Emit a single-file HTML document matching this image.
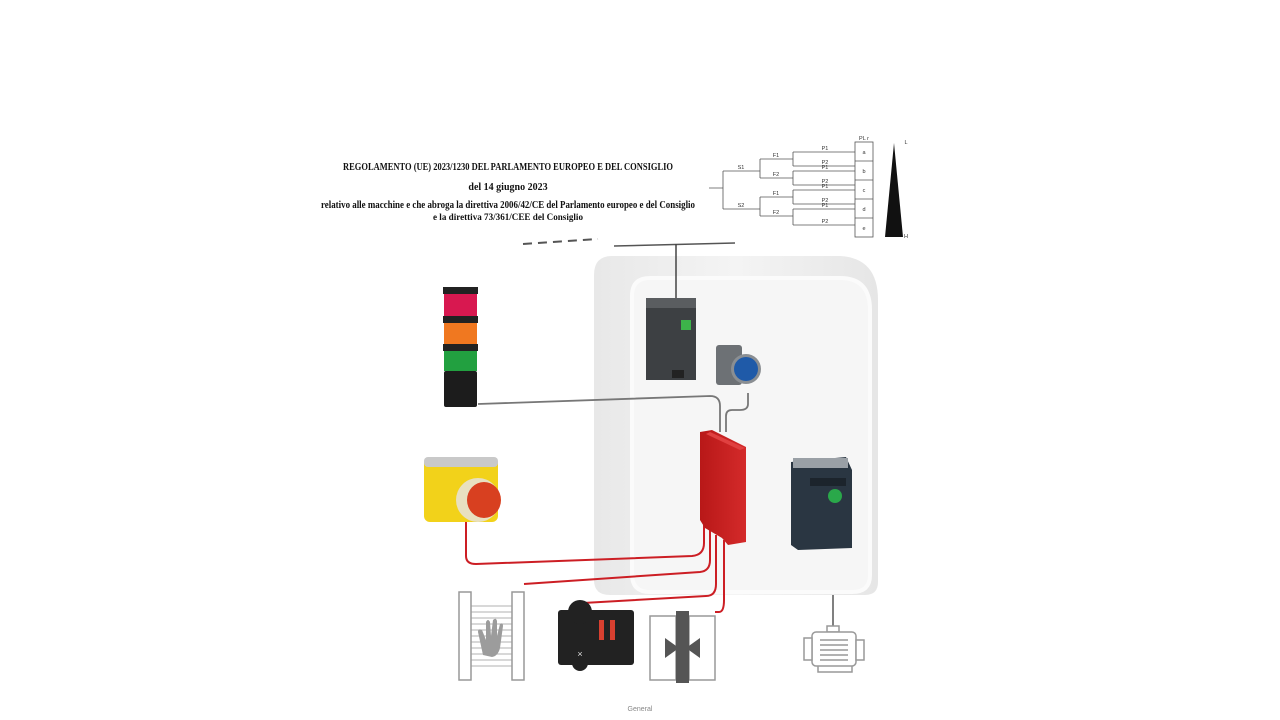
<!DOCTYPE html>
<html><head><meta charset="utf-8"><style>
html,body{margin:0;padding:0;background:#fff;}
svg{display:block;}
</style></head><body>
<svg width="1280" height="720" viewBox="0 0 1280 720" xmlns="http://www.w3.org/2000/svg" font-family="Liberation Serif, serif">
<defs>
<linearGradient id="cab" x1="0" y1="0" x2="1" y2="0">
<stop offset="0" stop-color="#e8e8e8"/><stop offset="0.5" stop-color="#f4f4f4"/><stop offset="1" stop-color="#e6e6e6"/></linearGradient>
<linearGradient id="red" x1="0" y1="0" x2="1" y2="0"><stop offset="0" stop-color="#b81818"/><stop offset="1" stop-color="#d42a2a"/></linearGradient>
</defs>
<g fill="#111" font-weight="bold" text-anchor="middle">
<text x="508" y="170" font-size="10" textLength="330" lengthAdjust="spacingAndGlyphs">REGOLAMENTO (UE) 2023/1230 DEL PARLAMENTO EUROPEO E DEL CONSIGLIO</text>
<text x="508" y="190" font-size="10">del 14 giugno 2023</text>
<text x="508" y="208" font-size="10" textLength="374" lengthAdjust="spacingAndGlyphs">relativo alle macchine e che abroga la direttiva 2006/42/CE del Parlamento europeo e del Consiglio</text>
<text x="508" y="220" font-size="9" textLength="150" lengthAdjust="spacingAndGlyphs">e la direttiva 73/361/CEE del Consiglio</text>
</g>
<g stroke="#555" stroke-width="0.8" fill="none">
<path d="M709 188H723M723 171V209M723 171H760M723 209H760M760 159V178M760 197V216M760 159H793M760 178H793M760 197H793M760 216H793"/>
<path d="M793 152V166M793 171V185M793 190V204M793 209V225"/>
<path d="M793 152H855M793 166H855M793 171H855M793 185H855M793 190H855M793 204H855M793 209H855M793 225H855"/>
<rect x="855" y="142" width="18" height="95"/>
<path d="M855 161H873M855 180H873M855 199H873M855 218H873"/>
</g>
<g font-size="5.5" fill="#333" font-family="Liberation Sans, sans-serif" text-anchor="middle">
<text x="741" y="169">S1</text><text x="741" y="207">S2</text>
<text x="776" y="157">F1</text><text x="776" y="176">F2</text><text x="776" y="195">F1</text><text x="776" y="214">F2</text>
<text x="825" y="150">P1</text><text x="825" y="164">P2</text><text x="825" y="169">P1</text><text x="825" y="183">P2</text>
<text x="825" y="188">P1</text><text x="825" y="202">P2</text><text x="825" y="207">P1</text><text x="825" y="223">P2</text>
<text x="864" y="154">a</text><text x="864" y="173">b</text><text x="864" y="192">c</text><text x="864" y="211">d</text><text x="864" y="230">e</text>
<text x="864" y="140">PL r</text><text x="906" y="144">L</text><text x="906" y="238">H</text>
</g>
<polygon points="894,143 885,237 903,237" fill="#111"/>
<path d="M523 244L598 239" stroke="#555" stroke-width="2" stroke-dasharray="9,6"/>
<path d="M614 246L735 243" stroke="#555" stroke-width="1.5"/>
<path d="M612 256H840Q878 258 878 300V582Q878 595 865 595H610Q594 595 594 580V275Q594 256 612 256Z" fill="url(#cab)"/>
<path d="M650 278H840Q870 278 870 310V575Q870 592 852 592H650Q632 592 632 574V296Q632 278 650 278Z" fill="#f6f6f6" stroke="#fbfbfb" stroke-width="4"/>
<path d="M676 244V298" stroke="#444" stroke-width="1.5"/>
<rect x="646" y="298" width="50" height="82" fill="#3d4043"/>
<rect x="646" y="298" width="50" height="10" fill="#5a5d60"/>
<rect x="681" y="320" width="10" height="10" fill="#3db34a"/>
<rect x="672" y="370" width="12" height="8" fill="#222"/>
<rect x="716" y="345" width="26" height="40" rx="3" fill="#6d7175"/>
<circle cx="746" cy="369" r="15" fill="#8a8e92"/>
<circle cx="746" cy="369" r="12" fill="#1f5aa8"/>
<rect x="443" y="287" width="35" height="7" fill="#222"/>
<rect x="444" y="294" width="33" height="22" fill="#d81850"/>
<rect x="443" y="316" width="35" height="7" fill="#222"/>
<rect x="444" y="323" width="33" height="21" fill="#f07820"/>
<rect x="443" y="344" width="35" height="7" fill="#222"/>
<rect x="444" y="351" width="33" height="20" fill="#22a040"/>
<rect x="444" y="371" width="33" height="36" rx="2" fill="#1c1c1c"/>
<path d="M478 404L710 396Q720 396 720 406V432" stroke="#777" stroke-width="1.8" fill="none"/>
<path d="M748 393V404Q748 410 740 410H732Q726 410 726 416V432" stroke="#777" stroke-width="1.8" fill="none"/>
<g stroke="#cc1e24" stroke-width="2" fill="none">
<path d="M466 522V556Q466 564 476 564L692 556Q704 555 704 543V518"/>
<path d="M524 584L700 572Q710 571 710 560V528"/>
<path d="M583 603L706 596Q716 596 716 584V535"/>
<path d="M715 612L719 612Q724 612 724 600V540"/>
</g>
<polygon points="700,432 712,430 746,447 746,542 728,545 722,538 705,528 700,520" fill="url(#red)"/>
<polygon points="710,432 745,448 740,450 706,434" fill="#e04040"/>
<rect x="424" y="457" width="74" height="65" rx="6" fill="#f2d21a"/>
<rect x="424" y="457" width="74" height="10" rx="4" fill="#c9c9c9"/>
<ellipse cx="478" cy="500" rx="22" ry="22" fill="#e8e0c0"/>
<ellipse cx="484" cy="500" rx="17" ry="18" fill="#d84020"/>
<polygon points="791,462 846,457 852,470 852,548 798,550 791,545" fill="#2a3642"/>
<rect x="793" y="458" width="55" height="10" fill="#9aa0a6"/>
<rect x="810" y="478" width="36" height="8" fill="#1c242c"/>
<circle cx="835" cy="496" r="7" fill="#2aa84a"/>
<path d="M833 595V630" stroke="#555" stroke-width="1.5"/>
<g stroke="#999" stroke-width="1.5" fill="#fff">
<rect x="827" y="626" width="12" height="6"/>
<rect x="812" y="632" width="44" height="34" rx="4"/>
<rect x="804" y="638" width="8" height="22"/>
<rect x="856" y="640" width="8" height="20"/>
<path d="M818 666V672H852V666" fill="none"/>
<path d="M820 640H848M820 645H848M820 650H848M820 655H848M820 660H848"/>
</g>
<g stroke="#999" stroke-width="1.5" fill="#fff">
<rect x="459" y="592" width="12" height="88"/>
<rect x="512" y="592" width="12" height="88"/>
<path d="M471 606H512M471 612H512M471 618H512M471 624H512M471 630H512M471 636H512M471 642H512M471 648H512M471 654H512M471 660H512M471 666H512" fill="none" stroke-width="0.8"/>
</g>
<path d="M483 655L478 632Q478 628 482 630L486 640L486 622Q488 618 490 622L491 636L493 620Q496 617 497 621L497 636L500 624Q503 622 503 626L500 648Q498 656 492 657Z" fill="#9c9c9c"/>
<rect x="558" y="610" width="76" height="55" rx="3" fill="#222"/>
<circle cx="580" cy="612" r="12" fill="#222"/>
<circle cx="580" cy="663" r="8" fill="#222"/>
<rect x="599" y="620" width="5" height="20" fill="#d84030"/>
<rect x="610" y="620" width="5" height="20" fill="#d84030"/>
<text x="580" y="657" font-size="9" fill="#ddd" text-anchor="middle" font-family="Liberation Sans, sans-serif">×</text>
<g stroke="#999" stroke-width="1.5" fill="#fff">
<rect x="650" y="616" width="26" height="64"/>
<rect x="689" y="616" width="26" height="64"/>
</g>
<rect x="676" y="611" width="13" height="72" fill="#555"/>
<polygon points="665,638 679,648 665,658" fill="#555"/>
<polygon points="700,638 686,648 700,658" fill="#555"/>
<text x="640" y="711" font-size="7" fill="#888" text-anchor="middle" font-family="Liberation Sans, sans-serif">General</text>
</svg>
</body></html>
